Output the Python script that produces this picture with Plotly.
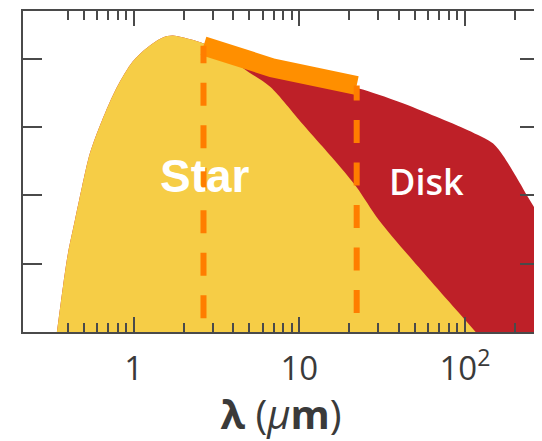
import plotly.graph_objects as go

# ---- data ----
wavelength_star = [0.344, 0.374, 0.401, 0.442, 0.487, 0.543, 0.642, 0.790, 0.986, 1.20, 1.49,
                   1.72, 2.39, 2.67, 3.53, 4.65, 6.67, 10.5, 16.9, 22.2, 30.2, 52.5, 105, 116]
flux_star = [0, 0.66, 1.15, 1.64, 2.12, 2.61, 3.09, 3.58, 3.96, 4.16, 4.31,
             4.34, 4.26, 4.22, 4.09, 3.85, 3.59, 3.04, 2.47, 2.12, 1.64, 0.95, 0.12, 0]

wavelength_total = [0.344, 0.374, 0.401, 0.442, 0.487, 0.543, 0.642, 0.790, 0.986, 1.20, 1.49,
                    1.72, 2.39, 2.67, 3.53, 4.65, 6.67, 10.5, 16.9, 23.2, 39.8, 67.3, 105,
                    148, 170, 210, 241, 280]
flux_total = [0, 0.66, 1.15, 1.64, 2.12, 2.61, 3.09, 3.58, 3.96, 4.16, 4.31,
              4.34, 4.26, 4.22, 4.09, 3.94, 3.80, 3.69, 3.62, 3.56, 3.37, 3.15, 2.95,
              2.76, 2.58, 2.22, 1.97, 1.71]

band_wavelength = [2.64, 6.85, 22.2]
band_flux = [4.19, 3.87, 3.61]

bound_wavelength = [2.64, 22.2]
bound_bottom = [0.20, 0.28]
bound_top = [4.19, 3.61]

x_tick_vals = [1, 10, 100]
x_tick_text = ["1", "10", "10<sup>2</sup>"]
x_minor_vals = [0.4, 0.5, 0.6, 0.7, 0.8, 0.9, 2, 3, 4, 5, 6, 7, 8, 9,
                20, 30, 40, 50, 60, 70, 80, 90, 200]
y_tick_vals = [1, 2, 3, 4]

YELLOW = "#F6CD46"
RED = "#BE2028"
ORANGE = "#FF8F00"
DASH = "#FF7D00"
AXIS = "#4a4a4a"

fig = go.Figure()
fig.add_trace(go.Scatter(x=wavelength_total, y=flux_total, mode="lines", fill="tozeroy",
                         line=dict(color=RED, width=0, shape="spline", smoothing=0.8),
                         fillcolor=RED, hoverinfo="skip"))
fig.add_trace(go.Scatter(x=wavelength_star, y=flux_star, mode="lines", fill="tozeroy",
                         line=dict(color=YELLOW, width=0, shape="spline", smoothing=0.8),
                         fillcolor=YELLOW, hoverinfo="skip"))
fig.add_trace(go.Scatter(x=band_wavelength, y=band_flux, mode="lines",
                         line=dict(color=ORANGE, width=19), hoverinfo="skip"))
for i in range(len(bound_wavelength)):
    fig.add_trace(go.Scatter(x=[bound_wavelength[i], bound_wavelength[i]],
                             y=[bound_bottom[i], bound_top[i]], mode="lines",
                             line=dict(color=DASH, width=6, dash="23px,19.5px"),
                             hoverinfo="skip"))

fig.add_annotation(x=0.433, y=2.29, xref="x", yref="y", text="<b>Star</b>", showarrow=False,
                   font=dict(family="Liberation Sans", size=46, color="white"))
fig.add_annotation(x=1.768, y=2.20, xref="x", yref="y", text="Disk", showarrow=False,
                   font=dict(family="Open Sans", size=36, color="white", weight=600))

fig.update_xaxes(type="log", range=[-0.668, 2.447],
                 tickmode="array", tickvals=x_tick_vals, ticktext=x_tick_text,
                 ticks="inside", ticklen=15, tickwidth=2, tickcolor=AXIS,
                 minor=dict(tickmode="array", tickvals=x_minor_vals, ticks="inside",
                            ticklen=9, tickwidth=2, tickcolor=AXIS, showgrid=False),
                 showline=True, linecolor=AXIS, linewidth=2, mirror="ticks",
                 showgrid=False, zeroline=False,
                 tickfont=dict(family="Open Sans", size=33, color="#3a3a3a"),
                 ticklabelstandoff=6,
                 title=dict(text="<b>λ</b> (<i>μ</i><b>m</b>)", standoff=8,
                            font=dict(family="Open Sans", size=40, color="#3a3a3a")))
fig.update_yaxes(range=[0, 4.70], tickmode="array", tickvals=y_tick_vals,
                 ticks="inside", ticklen=19, tickwidth=2, tickcolor=AXIS,
                 showticklabels=False, showline=True, linecolor=AXIS, linewidth=2,
                 mirror="ticks", showgrid=False, zeroline=False)

# the page body adds an 8px margin, so the figure is offset by 8px
fig.update_layout(width=534, height=433, margin=dict(l=15, r=1, t=2, b=109),
                  paper_bgcolor="white", plot_bgcolor="white", showlegend=False)

fig.write_html("out.html")
